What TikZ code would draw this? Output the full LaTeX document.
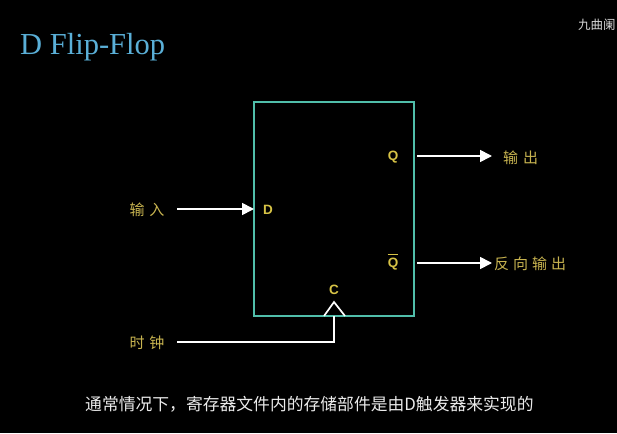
\documentclass[tikz,border=0pt]{standalone}
\usepackage{fontspec}
\setmainfont{Liberation Serif}
\newfontfamily\cjk{Noto Sans CJK SC}
\newfontfamily\lab{Liberation Sans}
\usetikzlibrary{arrows.meta}
\definecolor{titleblue}{RGB}{90,175,215}
\definecolor{boxteal}{RGB}{80,190,170}
\definecolor{labyellow}{RGB}{215,195,70}
\definecolor{cnyellow}{RGB}{200,180,80}
\definecolor{wmgray}{RGB}{215,215,215}
\tikzset{
  sig/.style={draw=white, line width=1.7pt, -{Triangle[length=12pt,width=12pt]}},
  wire/.style={draw=white, line width=1.7pt},
  pin/.style={text=labyellow, font=\lab\bfseries\fontsize{13.5}{13.5}\selectfont, inner sep=0pt},
  cnlab/.style={text=cnyellow, font=\cjk\fontsize{15}{15}\selectfont, inner sep=0pt},
}
\begin{document}
\begin{tikzpicture}[x=1pt,y=-1pt]
\fill[black] (0,0) rectangle (617,433);
\useasboundingbox (0,0) rectangle (617,433);
% title
\node[anchor=base west, inner sep=0pt, text=titleblue, font=\fontsize{30.5}{30.5}\selectfont] (title) at (20,55) {D Flip-Flop};
% watermark
\node[anchor=west, inner sep=0pt, text=wmgray, font=\cjk\fontsize{12.5}{12.5}\selectfont] (wm) at (578,25) {九曲阑};
% box
\draw[boxteal, line width=1.6pt] (254,102) rectangle (414,316);
% pins
\node[pin] (pD) at (268,210) {D};
\node[pin] (pQ) at (393,157) {Q};
\node[pin] (pQb) at (393,264) {Q};
\draw[labyellow, line width=1.3pt] ([yshift=3.5pt]pQb.north west) -- ([yshift=3.5pt]pQb.north east);
\node[pin] (pC) at (334,290) {C};
% labels
\node[cnlab] (lin) at (147,210) {输\hspace{5pt}入};
\node[cnlab, anchor=west] (lout) at (503,158) {输\hspace{5pt}出};
\node[cnlab, anchor=west] (lnout) at (494,264) {反\hspace{4pt}向\hspace{4pt}输\hspace{4pt}出};
\node[cnlab] (lclk) at (147,343) {时\hspace{5pt}钟};
% arrows
\coordinate (dS) at (177,209);
\coordinate (dE) at (254,209);
\draw[sig] (dS) -- (dE);
\coordinate (qS) at (417,156);
\coordinate (qE) at (492,156);
\draw[sig] (qS) -- (qE);
\coordinate (qbS) at (417,263);
\coordinate (qbE) at (492,263);
\draw[sig] (qbS) -- (qbE);
% clock
\coordinate (cS) at (177,342);
\coordinate (cK) at (334,342);
\coordinate (cB) at (334,316);
\draw[wire, line join=miter] (cS) -- (cK) -- (cB);
\coordinate (tL) at (324,316);
\coordinate (tA) at (334,302);
\coordinate (tR) at (345,316);
\draw[wire, line join=miter] (tL) -- (tA) -- (tR);
% caption
\node[anchor=west, inner sep=0pt, text=white!92!black, font=\cjk\fontsize{16.8}{16.8}\selectfont] (cap) at (85,404) {通常情况下，寄存器文件内的存储部件是由D触发器来实现的};
\end{tikzpicture}
\end{document}
